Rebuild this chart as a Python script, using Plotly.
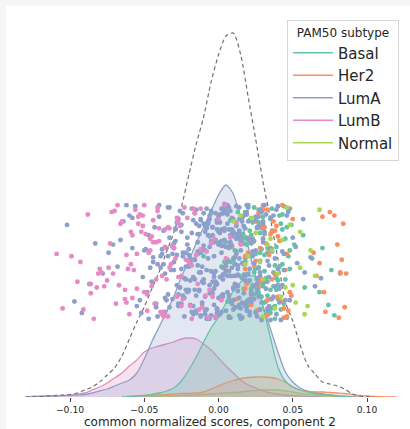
import plotly.graph_objects as go

# ---------------- data ----------------
subtypes = ["Basal", "Her2", "LumA", "LumB", "Normal"]
colors = ["#66c2a5", "#fc8d62", "#8da0cb", "#e78ac3", "#a6d854"]

# evaluation grid of the density curves (component-2 score)
grid_x = [-0.130, -0.125, -0.120, -0.115, -0.110, -0.105, -0.100, -0.095, -0.090, -0.085,
          -0.080, -0.075, -0.070, -0.065, -0.060, -0.055, -0.050, -0.045, -0.040, -0.035,
          -0.030, -0.025, -0.020, -0.015, -0.010, -0.005, 0.000, 0.005, 0.010, 0.015,
          0.020, 0.025, 0.030, 0.035, 0.040, 0.045, 0.050, 0.055, 0.060, 0.065,
          0.070, 0.075, 0.080, 0.085, 0.090, 0.095, 0.100, 0.105, 0.110, 0.115, 0.120]

# densities (arbitrary units)
dens_all = [0, 0.3, 0.5, 1, 1.5, 2, 2.5, 4, 7, 10,
            15, 22, 29, 41, 58, 75, 90, 108, 125, 145,
            165, 190, 222, 253, 280, 315, 342, 361, 364, 342,
            300, 258, 215, 178, 138, 95, 76, 52, 32, 23,
            15, 13, 11, 8, 3, 1, 0.5, 0, 0, 0, 0]
dens_basal = [0, 0, 0, 0, 0, 0, 0, 0, 0, 0,
              0, 0, 0, 0, 0.5, 1, 1.5, 2.5, 4, 6,
              9, 16, 27, 40, 55, 69, 80, 94, 106, 115,
              121, 120, 90, 59, 30, 16, 10, 7, 5, 3.5,
              2.5, 2, 1, 0.5, 0, 0, 0, 0, 0, 0, 0]
dens_her2 = [0, 0, 0, 0, 0, 0, 0, 0, 0, 0,
             0, 0, 0, 0, 0.5, 1, 1.5, 2, 2, 2.5,
             3, 3.5, 3.5, 4, 5, 8, 11, 14, 16.5, 18.5,
             19.5, 20, 20, 19.5, 18, 15, 10, 7, 5.5, 5,
             5, 4.5, 4, 3.5, 2.5, 1.5, 1, 0.5, 0.3, 0.1, 0]
dens_luma = [0, 0.5, 0.8, 1, 1.2, 1.3, 1.5, 2, 2.5, 4,
             6, 8, 11, 14, 17, 24, 38, 55, 70, 85,
             101, 120, 136, 154, 170, 186, 202, 212, 203, 178,
             150, 120, 91, 68, 45, 25, 15, 9, 6, 4.5,
             3, 2, 1.2, 0.8, 0.3, 0, 0, 0, 0, 0, 0]
dens_lumb = [0, 0.5, 0.5, 1, 1, 1.5, 2, 3, 4, 7,
             10, 14, 19, 24, 31, 37, 45, 49, 51, 53,
             55, 58, 59, 58, 53, 47, 39, 31, 24, 17,
             12, 9, 6, 4, 3, 2, 1.5, 1, 0.5, 0.3,
             0, 0, 0, 0, 0, 0, 0, 0, 0, 0, 0]
dens_normal = [0, 0, 0, 0, 0, 0, 0, 0, 0, 0,
               0, 0, 0, 0, 0, 0, 0, 0.3, 0.5, 1,
               1, 1.5, 1.5, 2, 2.5, 3, 3.5, 4, 4.5, 5,
               6, 6.5, 7, 7, 7, 6, 5, 3.5, 2.5, 2,
               1.2, 0.8, 0.5, 0.3, 0, 0, 0, 0, 0, 0, 0]

# individual samples: score (x 1/1000) and strip jitter (0..100)
basal_x = [25, 12, 38, 5, 30, 47, 18, 35, 22, 9, 41, 33, 28, 15, 27, 2, 31, 36, 20, 70,
           28, 44, 8, 35, 19, 24, 14, 40, 31, 78, -5, 45, 19, 26, 26, 11, 37, 21, 23, 48,
           4, 32, 16, 82, 29, 42, -10, 17, 21, 34, 13, 39, 39, 7, 46, 27, 74, 17, 30, 30,
           20, 33, 8, 27, 45, 14, 38, 3, 24, 51, 17, 30, 42, 11, 36, 22, 57, 6, 29, 48,
           15, 34, 26, 43, 10, 40, 19, 31, 1, 46, 23, 37, 25, 13, 28, 43, 18, 68, 9, 32,
           25, 49, 4, 35, 16, 37, 27, 39, 12, 44, 21, 33, 30, 7, 41, 19, 29, 33, 24, 14,
           47, 36, 28, 58, 17, 38, 5, 43, 22, 31, 76, 26, 11, 40, 35, 20, 63, 29, 40, 15]
basal_j = [44, 81, 12, 67, 29, 95, 53, 6, 73, 38, 90, 21, 58, 2, 84, 46, 15, 77, 33, 62,
           9, 98, 50, 26, 70, 41, 87, 18, 56, 4, 92, 35, 65, 23, 79, 48, 11, 86, 30, 60,
           97, 16, 74, 40, 1, 83, 55, 27, 68, 8, 93, 36, 63, 19, 80, 45, 13, 71, 31, 99,
           13, 58, 86, 31, 70, 4, 47, 92, 22, 65, 39, 81, 9, 54, 96, 27, 73, 16, 61, 44,
           88, 6, 35, 78, 51, 19, 99, 42, 67, 2, 84, 29, 57, 11, 75, 48, 93, 24, 63, 36,
           7, 82, 50, 18, 69, 41, 95, 26, 59, 14, 77, 33, 89, 3, 46, 71, 20, 62, 97, 38,
           55, 10, 80, 28, 66, 1, 49, 91, 23, 74, 43, 8, 60, 34, 87, 17, 53, 79, 30, 68]
her2_x = [35, 12, 25, 28, 72, 40, 5, 33, 48, 20, 85, 31, 38, 15, 44, 78, 25, 27, 38, 22,
          9, 82, 30, 40, 18, 47, 84, 36, 30, 24, 42, 27, 13, 35, 33, 46, 50, 22, 80, 45,
          30, 66, 28, 44, 39, 18, 83, 46, 21, 18, 70, 33, 32, 29, 43, 64, 26, 36, 86, 49,
          37, 68, 22, 75, 19, 41, 81, 34, 30, 71]
her2_j = [60, 18, 85, 33, 7, 72, 46, 95, 24, 58, 11, 80, 39, 66, 2, 90, 51, 28, 77, 14,
          63, 41, 98, 20, 55, 8, 83, 35, 70, 47, 16, 92, 30, 74, 4, 57, 87, 22, 65, 43,
          95, 38, 62, 10, 81, 27, 52, 3, 70, 44, 89, 17, 66, 35, 99, 58, 8, 76, 40, 21,
          85, 49, 13, 93, 31, 68, 2, 56, 79, 24]
luma_x = [-3, 12, -25, 8, 1, -41, 17, -9, 22, -14, 5, -33, 28, -2, 10, -19, 35, -6, -52, 14,
          3, -27, 19, -11, 41, -4, -16, 7, -38, 25, 0, -21, 13, -8, 31, -45, 9, -13, 2, -30,
          16, -60, 6, 23, -17, -1, 38, -24, 11, -7, -68, 4, 27, -35, 15, -12, 20, -5, -48, 33,
          -10, 8, -29, 18, -74, 2, -15, 44, -22, 12, -3, -56, 26, -9, 7, -40, 21, -18, 53, -1,
          -83, 15, -26, 5, 36, -13, -44, 10, -6, 29, -31, 3, -64, 17, -20, 48, -2, -37, 13, -11,
          24, -92, 6, -16, 32, -28, 1, -50, 19, -8, 40, -23, 9, -71, 14, -4, 58, -34, 22, -14,
          -1, -102, 11, -19, 30, -42, 4, -7, 65, -25, 16, -58, 8, -12, 37, -3, -46, 20, -17, 2,
          -87, 26, -9, 12, -32, 46, -21, 5, -53, 18, -6, 69, -15, 9, -39, 28, -27, 0, -78, 14,
          -10, 34, -47, 7, -2, 43, -24, 21, -66, 3, 16, -36, 62, -13, 25, -5, -97, 10, -20, 31,
          6, -18, 27, -4, 14, -31, 2, 21, -12, 35, -7, 10, -24, 18, 0, -36, 29, -15, 8, 42,
          -9, 16, -27, 4, 24, -2, -20, 12, 33, -13, 7, -40, 19, -6, 26, -17, 1, 38, -29, 11,
          -1, 22, -11, 5, -34, 15, 30, -8, -22, 9, 45, -3, 17, -26, 3, 28, -14, -43, 13, 20,
          -5, 36, -19, 10, -30, 23, 0, -10, 39, 6, -23, 14, -49, 25, -7, 18, 2, -16, 32, -37,
          8, -2, 21, -28, 12, -12, 4, 41, -21, 16, -6, 27, -33, 1, 11, -18, 34, -9, 7, -25,
          19, -44, 3, 24, -14, 9, -3, 30, -31, 15, 50, -11, 6, -20, 22, -1, -38, 13, 37, -8,
          2, -24, 17, 10, -15, 28, -5, -55, 20, 5, -27, 43, -12, 8, 31, -2, 14, -35, 23, -10,
          0, 26, -19, 12, -42, 7, 35, -7, 18, -30, 3, 47, -16, 21, -4, 9, -26, 15, -62, 29,
          -13, 4, 39, -22, 11, -1, 24, -33, 16, -8, 6, 52, -17, 1, 33, -28, 19, -5, -47, 13,
          25, -11, 8, -39, 3, 18, -23, 30, -6, 14, -58, 22, -14, 5, 40, -3, -30, 10, 27, -19,
          -2, 15, -36, 7, 44, -9, 20, -25, 0, 12, -16, 34, -41, 9, -4, 23, -12, 57, 3, -29,
          17, -6, 28, -20, 6, -51, 13, -1, 36, -15, 21, -8, 2, -34, 26, 10, -22, 48, -10, 4]
luma_j = [37, 82, 14, 65, 91, 3, 48, 76, 22, 59, 8, 97, 41, 69, 17, 53, 88, 30, 6, 74,
          45, 12, 93, 61, 27, 80, 35, 2, 57, 86, 19, 71, 44, 9, 99, 33, 64, 25, 78, 50,
          15, 90, 38, 67, 5, 84, 29, 55, 11, 73, 46, 95, 20, 62, 1, 87, 40, 68, 24, 51,
          92, 16, 79, 34, 58, 7, 83, 43, 26, 70, 13, 98, 36, 60, 21, 89, 4, 75, 49, 31,
          66, 10, 94, 42, 18, 81, 54, 28, 72, 0, 63, 39, 85, 23, 56, 96, 32, 77, 47, 15,
          68, 6, 91, 52, 27, 84, 37, 60, 11, 79, 44, 3, 88, 65, 19, 73, 41, 97, 25, 57,
          9, 82, 48, 34, 70, 14, 93, 53, 29, 76, 2, 62, 38, 86, 20, 67, 45, 99, 12, 58,
          31, 80, 5, 71, 43, 90, 24, 63, 17, 50, 87, 36, 8, 74, 55, 95, 22, 66, 40, 13,
          83, 47, 1, 78, 30, 59, 92, 18, 69, 35, 85, 7, 54, 26, 89, 42, 16, 75, 61, 33,
          52, 7, 89, 33, 71, 18, 96, 44, 3, 62, 85, 27, 58, 12, 76, 40, 93, 21, 67, 0,
          81, 36, 14, 69, 49, 92, 25, 57, 8, 74, 42, 99, 16, 63, 31, 86, 5, 53, 78, 38,
          10, 66, 46, 94, 22, 60, 83, 1, 35, 72, 17, 55, 90, 28, 64, 9, 47, 80, 39, 97,
          24, 59, 13, 87, 43, 70, 4, 32, 95, 51, 19, 77, 61, 6, 84, 34, 68, 26, 91, 48,
          73, 2, 56, 30, 98, 41, 79, 15, 65, 88, 23, 45, 11, 75, 54, 96, 37, 20, 63, 82,
          8, 50, 92, 29, 67, 14, 40, 85, 57, 3, 71, 33, 99, 46, 18, 78, 61, 25, 90, 43,
          64, 21, 81, 53, 6, 38, 94, 12, 70, 47, 87, 30, 58, 2, 76, 42, 97, 17, 55, 35,
          89, 26, 49, 74, 11, 62, 0, 83, 39, 66, 20, 93, 52, 7, 80, 45, 28, 68, 99, 15,
          41, 77, 5, 58, 31, 86, 18, 71, 49, 96, 24, 63, 37, 84, 10, 56, 91, 4, 73, 29,
          60, 13, 94, 45, 22, 79, 36, 67, 1, 53, 88, 16, 74, 42, 98, 27, 62, 9, 81, 50,
          33, 70, 19, 97, 57, 8, 85, 44, 65, 30, 92, 12, 48, 78, 23, 59, 4, 87, 39, 68,
          14, 90, 51, 26, 83, 37, 72, 6, 61, 95, 34, 80, 21, 55, 3, 76, 46, 17, 64, 100]
lumb_x = [-45, -62, -28, -81, -37, -12, -55, -70, -20, -48, -33, -95, -5, -58, -41, -74, -25, -66, -15, -50,
          -88, -38, -3, -60, -30, -77, -44, -18, -105, -52, -35, -68, -9, -47, -84, -26, -57, -40, 2, -72,
          -22, -63, -49, -91, -31, -14, -54, -79, -43, -36, -99, -7, -65, -27, -46, -86, -17, -59, -39, 8,
          -75, -51, -24, -109, -34, -61, -11, -42, -82, -56, -2, 5, 12, -4, 15,
          -32, -53, -19, -44, -67, -27, -38, -8, -59, -48, -23, -71, -36, -13, -51, -42, -29, -63, -16, -80,
          -46, -34, -55, -21, -6, -40, -69, -30, -50, -25, -93, -37, -58, -12, -45, 0, -33, -73, -18, -54,
          -28, -62, -41, 4, -86]
lumb_j = [72, 15, 88, 40, 3, 61, 27, 94, 50, 8, 79, 33, 66, 19, 97, 45, 12, 83, 56, 24,
          91, 38, 70, 5, 62, 29, 86, 47, 10, 76, 35, 99, 21, 58, 1, 81, 43, 68, 17, 93,
          52, 26, 74, 9, 64, 31, 89, 41, 14, 78, 55, 2, 85, 37, 60, 23, 96, 48, 7, 71,
          34, 90, 18, 57, 80, 44, 11, 67, 28, 95, 3, 53, 84, 20, 65,
          48, 91, 12, 67, 30, 84, 5, 59, 76, 22, 97, 40, 63, 9, 81, 35, 53, 18, 92, 44,
          70, 3, 57, 88, 26, 79, 14, 62, 99, 38, 50, 7, 73, 96, 29, 87, 45, 66, 1, 83,
          20, 56, 94, 99, 31]
normal_x = [42, 25, 55, 15, 38, 62, 30, 48, 20, 58, 35, 45, 68, 28, 52, 10, 40, 33,
            50, 22, 60, 36, 46, 18, 55, 30, 65, 43]
normal_j = [20, 75, 45, 90, 10, 60, 35, 82, 55, 5, 70, 28, 95, 50, 15, 85, 40, 65,
            30, 88, 12, 60, 97, 48, 76, 3, 38, 69]

tick_vals = [-0.10, -0.05, 0.00, 0.05, 0.10]
tick_text = ["\u22120.10", "\u22120.05", "0.00", "0.05", "0.10"]
x_title = "common normalized scores, component 2"
legend_title = "PAM50 subtype"

densities = [dens_basal, dens_her2, dens_luma, dens_lumb, dens_normal]
samples_x = [basal_x, her2_x, luma_x, lumb_x, normal_x]
samples_j = [basal_j, her2_j, luma_j, lumb_j, normal_j]

# ---------------- helpers ----------------
def rgba(hex_color, a):
    h = hex_color.lstrip("#")
    r, g, b = int(h[0:2], 16), int(h[2:4], 16), int(h[4:6], 16)
    return f"rgba({r},{g},{b},{a})"

def support(xs, ys):
    nz = [i for i, v in enumerate(ys) if v > 0]
    lo = max(nz[0] - 1, 0)
    hi = min(nz[-1] + 1, len(ys) - 1)
    return xs[lo:hi + 1], ys[lo:hi + 1]

# ---------------- figure ----------------
W, H = 410, 429
ML, MR, MT, MB = 20, 10, 6, 32
FONT = "DejaVu Sans"
TXT = "#262626"

fig = go.Figure()

# filled density curves (first subtype drawn last, i.e. on top)
for i in reversed(range(len(subtypes))):
    xs, ys = support(grid_x, densities[i])
    fig.add_trace(go.Scatter(
        x=xs, y=ys, mode="lines",
        line=dict(color=colors[i], width=1.3, shape="spline", smoothing=0.7),
        fill="tozeroy", fillcolor=rgba(colors[i], 0.25),
        showlegend=False, hoverinfo="skip"))

# strip of individual samples
for i, name in enumerate(subtypes):
    fig.add_trace(go.Scatter(
        x=[v / 1000 for v in samples_x[i]], y=samples_j[i], yaxis="y2",
        mode="markers", name=name,
        marker=dict(color=colors[i], size=4.9, line=dict(width=0)),
        showlegend=False))

# overall density (dashed)
xs, ys = support(grid_x, dens_all)
fig.add_trace(go.Scatter(
    x=xs, y=ys, mode="lines",
    line=dict(color="#707070", width=1.2, dash="4px,3px", shape="spline", smoothing=0.7),
    showlegend=False, hoverinfo="skip"))

# legend entries (line samples only)
for i, name in enumerate(subtypes):
    fig.add_trace(go.Scatter(
        x=[None], y=[None], mode="lines", name=name,
        line=dict(color=colors[i], width=1.5)))

plot_h = H - MT - MB
plot_w = W - ML - MR
px_per_unit = 1485.0
x_min = -0.10 - (70 - ML) / px_per_unit
x_max = x_min + plot_w / px_per_unit

# jitter band: 0 -> 77 px above baseline, 100 -> 193 px above baseline
j0, jscale = 77.0, 1.16
y2_min = -j0 / jscale
y2_max = (plot_h - j0) / jscale

fig.update_layout(
    width=W, height=H,
    margin=dict(l=ML, r=MR, t=MT, b=MB, pad=0),
    paper_bgcolor="#f6f6f6",
    plot_bgcolor="rgba(0,0,0,0)",
    font=dict(family=FONT, color=TXT),
    xaxis=dict(
        range=[x_min, x_max], showgrid=False, zeroline=False, showline=False,
        tickmode="array", tickvals=tick_vals, ticktext=tick_text,
        ticks="outside", ticklen=4, tickwidth=1, tickcolor="#444444",
        tickfont=dict(size=9.2, color=TXT, family=FONT),
        title=dict(text=x_title, font=dict(size=12, color=TXT, family=FONT), standoff=4),
        automargin=False),
    yaxis=dict(range=[0, plot_h], visible=False, fixedrange=True),
    yaxis2=dict(range=[y2_min, y2_max], overlaying="y", visible=False),
    legend=dict(
        x=(287 - ML) / plot_w, y=(H - MB - 20) / plot_h, xanchor="left", yanchor="top",
        bgcolor="rgba(255,255,255,0.85)", bordercolor="#d5d5d5", borderwidth=1,
        font=dict(size=15, color=TXT, family=FONT),
        title=dict(text=legend_title, side="top center", font=dict(size=12, color=TXT, family=FONT)),
        itemwidth=40, tracegroupgap=0),
    shapes=[dict(type="rect", xref="paper", yref="paper", layer="below",
                 x0=(6 - ML) / plot_w, x1=(W - ML) / plot_w,
                 y0=-MB / plot_h, y1=(H - MB - 6) / plot_h,
                 fillcolor="white", line=dict(width=0))],
)

fig.write_html("out.html")
